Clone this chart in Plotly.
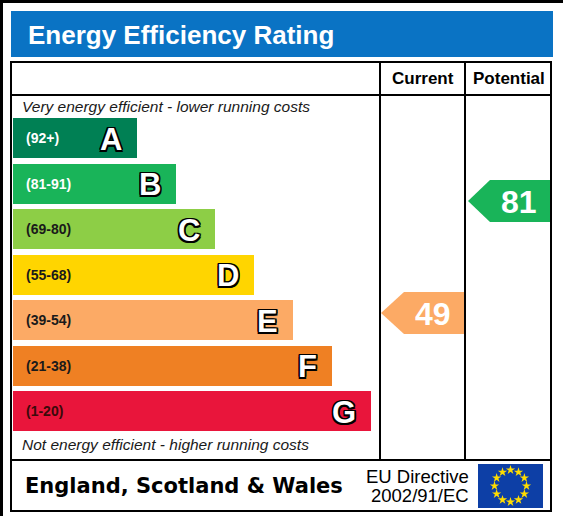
import plotly.graph_objects as go
import math

# ---- data ----
bands = ["A", "B", "C", "D", "E", "F", "G"]
ranges = ["(92+)", "(81-91)", "(69-80)", "(55-68)", "(39-54)", "(21-38)", "(1-20)"]
band_min = [92, 81, 69, 55, 39, 21, 1]
band_colors = ["#008054", "#19b459", "#8dce46", "#ffd500", "#fcaa65", "#ef8023", "#e9153b"]
range_text_colors = ["#ffffff", "#ffffff", "#1a1a1a", "#1a1a1a", "#1a1a1a", "#1a1a1a", "#3a0a0a"]
current_rating = 49
potential_rating = 81
title = "Energy Efficiency Rating"
col_labels = ["Current", "Potential"]
top_note = "Very energy efficient - lower running costs"
bottom_note = "Not energy efficient - higher running costs"
footer_region = "England, Scotland & Wales"
footer_directive = ["EU Directive", "2002/91/EC"]

W, H = 563, 516
fig = go.Figure()

# ---- layout geometry (pixel space) ----
bar_x0 = 13
bar_top0 = 118
bar_step = 45.5
bar_h = 40
bar_len0 = 124
bar_len_step = 39

ys = [bar_top0 + bar_h / 2 + bar_step * i for i in range(len(bands))]
lens = [bar_len0 + bar_len_step * i for i in range(len(bands))]

fig.add_trace(go.Bar(
    orientation="h", y=ys, x=lens, base=bar_x0, width=bar_h,
    marker=dict(color=band_colors, line=dict(width=0)),
    hoverinfo="skip", showlegend=False,
))

FONT = "Liberation Sans, Arial"
annotations = []
outline = ("1.5px 1.5px 0 #000, -1.5px -1.5px 0 #000, 1.5px -1.5px 0 #000, -1.5px 1.5px 0 #000, "
           "0 1.5px 0 #000, 0 -1.5px 0 #000, 1.5px 0 0 #000, -1.5px 0 0 #000")
for i, b in enumerate(bands):
    annotations.append(dict(x=24, y=ys[i], text=ranges[i], xanchor="left", yanchor="middle",
                            showarrow=False,
                            font=dict(family=FONT, size=14, color=range_text_colors[i], weight="bold")))
    annotations.append(dict(x=bar_x0 + lens[i] - 13, y=ys[i] + 1, text=b, xanchor="right", yanchor="middle",
                            showarrow=False,
                            font=dict(family=FONT, size=31, color="#ffffff", weight="bold",
                                      shadow=outline)))

# ---- rating arrows ----
def band_index(v):
    for i, m in enumerate(band_min):
        if v >= m:
            return i
    return len(band_min) - 1

def rating_y(v):
    return 484.5 - 3.5 * v

def add_arrow(v, x_tip, x_body, x_end):
    yc = rating_y(v)
    hh = 21
    col = band_colors[band_index(v)]
    fig.add_trace(go.Scatter(
        x=[x_tip, x_body, x_end, x_end, x_body, x_tip],
        y=[yc, yc - hh, yc - hh, yc + hh, yc + hh, yc],
        fill="toself", fillcolor=col, mode="lines", line=dict(width=0, color=col),
        hoverinfo="skip", showlegend=False,
    ))
    annotations.append(dict(x=(x_body + x_end) / 2 - 1.5, y=yc + 1, text=str(v), showarrow=False,
                            xanchor="center", yanchor="middle",
                            font=dict(family=FONT, size=32, color="#ffffff", weight="bold")))

add_arrow(current_rating, 381, 404, 464)
add_arrow(potential_rating, 468, 490, 550)

# ---- EU flag stars ----
fcx, fcy, fr = 510.5, 486, 16
sx = [fcx + fr * math.cos(2 * math.pi * k / 12) for k in range(12)]
sy = [fcy + fr * math.sin(2 * math.pi * k / 12) for k in range(12)]

shapes = [
    dict(type="rect", x0=0, x1=W, y0=0, y1=3, fillcolor="#000000", line=dict(width=0), layer="below"),
    dict(type="rect", x0=0, x1=3, y0=0, y1=H, fillcolor="#000000", line=dict(width=0), layer="below"),
    dict(type="rect", x0=11, x1=553, y0=11, y1=57, fillcolor="#0a73c4", line=dict(width=0), layer="below"),
    dict(type="rect", x0=11, x1=551, y0=62, y1=511, line=dict(color="#000000", width=2)),
    dict(type="line", x0=11, x1=551, y0=95, y1=95, line=dict(color="#000000", width=2)),
    dict(type="line", x0=11, x1=551, y0=460, y1=460, line=dict(color="#000000", width=2)),
    dict(type="line", x0=380, x1=380, y0=62, y1=460, line=dict(color="#000000", width=2)),
    dict(type="line", x0=465, x1=465, y0=62, y1=460, line=dict(color="#000000", width=2)),
    dict(type="rect", x0=478, x1=543, y0=464, y1=508, fillcolor="#0d3fa6", line=dict(width=0), layer="below"),
]

fig.add_trace(go.Scatter(x=sx, y=sy, mode="markers",
                         marker=dict(symbol="star", size=7, color="#ffdd00", line=dict(width=0)),
                         hoverinfo="skip", showlegend=False))

annotations += [
    dict(x=26, y=35, text=title, xanchor="left", yanchor="middle", showarrow=False,
         font=dict(family=FONT, size=26, color="#ffffff", weight="bold")),
    dict(x=423, y=78, text=col_labels[0], xanchor="center", yanchor="middle", showarrow=False,
         font=dict(family=FONT, size=17, color="#000000", weight="bold")),
    dict(x=509, y=78, text=col_labels[1], xanchor="center", yanchor="middle", showarrow=False,
         font=dict(family=FONT, size=17, color="#000000", weight="bold")),
    dict(x=20, y=106, text=top_note, xanchor="left", yanchor="middle", showarrow=False,
         font=dict(family=FONT, size=15.5, color="#1a1a1a", style="italic")),
    dict(x=20, y=444, text=bottom_note, xanchor="left", yanchor="middle", showarrow=False,
         font=dict(family=FONT, size=15.5, color="#1a1a1a", style="italic")),
    dict(x=23, y=486, text=footer_region, xanchor="left", yanchor="middle", showarrow=False,
         font=dict(family="DejaVu Sans", size=21, color="#000000", weight="bold")),
    dict(x=471, y=476, text=footer_directive[0], xanchor="right", yanchor="middle", showarrow=False,
         font=dict(family=FONT, size=18.5, color="#000000")),
    dict(x=471, y=495.5, text=footer_directive[1], xanchor="right", yanchor="middle", showarrow=False,
         font=dict(family=FONT, size=18.5, color="#000000")),
]

fig.update_layout(
    width=W, height=H, margin=dict(l=0, r=0, t=0, b=0),
    paper_bgcolor="#ffffff", plot_bgcolor="#ffffff",
    xaxis=dict(range=[0, W], visible=False, fixedrange=True),
    yaxis=dict(range=[H, 0], visible=False, fixedrange=True),
    shapes=shapes, annotations=annotations, bargap=0, showlegend=False,
)

fig.write_html("out.html", config={"displayModeBar": False},
               post_script="document.body.style.margin='0';document.body.style.overflow='hidden';")
